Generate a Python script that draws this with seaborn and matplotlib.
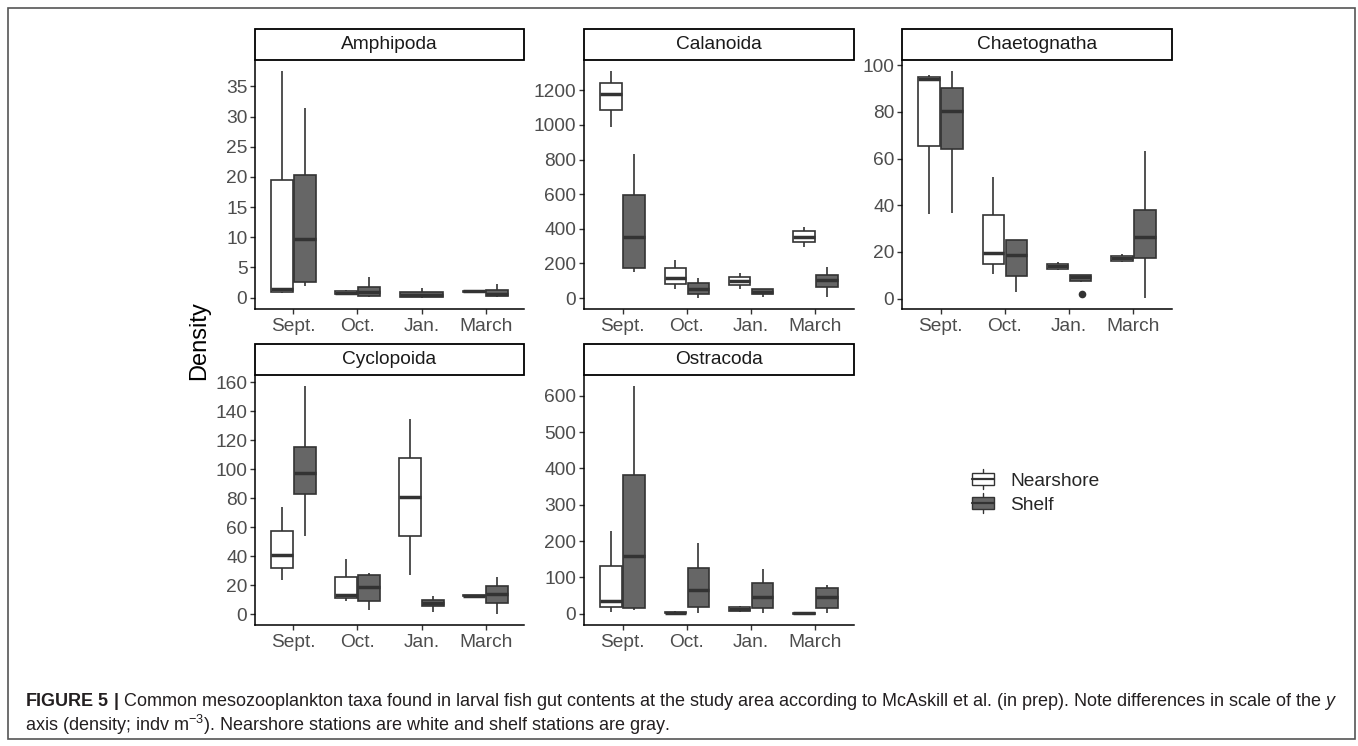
import numpy as np
import pandas as pd
import matplotlib
matplotlib.use("Agg")
import matplotlib.pyplot as plt
import seaborn as sns
from matplotlib.patches import Rectangle, Patch
from matplotlib.lines import Line2D
from matplotlib.legend_handler import HandlerBase
from matplotlib.ticker import MultipleLocator
from matplotlib import font_manager

# ---------------- data ----------------
months = ["Sept.", "Oct.", "Jan.", "March"]
stations = ["Nearshore", "Shelf"]
taxa = ["Amphipoda", "Calanoida", "Chaetognatha", "Cyclopoida", "Ostracoda"]

# five-number summaries per month: (min, Q1, median, Q3, max); None = no data
amphipoda_nearshore = [[0.7, 1.0, 1.4, 19.5, 37.5], [0.5, 0.6, 0.85, 1.05, 1.2],
                       None, [0.9, 0.95, 1.05, 1.1, 1.2]]
amphipoda_shelf = [[1.9, 2.6, 9.8, 20.4, 31.5], [0.05, 0.3, 0.95, 1.8, 3.4],
                   [0.0, 0.05, 0.45, 0.95, 1.6], [0.05, 0.2, 0.65, 1.2, 2.3]]

calanoida_nearshore = [[990, 1085, 1180, 1245, 1310], [50, 83, 118, 172, 222],
                       [55, 75, 100, 122, 145], [295, 325, 354, 386, 412]]
calanoida_shelf = [[150, 175, 355, 595, 835], [2, 22, 55, 87, 114],
                   [6, 22, 37, 50, 55], [6, 65, 105, 132, 180]]

chaetognatha_nearshore = [[36.4, 65.2, 94.2, 95.0, 95.7], [10.5, 14.7, 19.4, 35.8, 51.9],
                          [12.2, 12.8, 13.8, 14.7, 15.5], [15.5, 16.2, 17.4, 18.4, 19.1]]
chaetognatha_shelf = [[36.6, 64.2, 80.6, 90.2, 97.4], [3.0, 9.5, 18.7, 25.1, 25.3],
                      [7.3, 7.5, 9.1, 10.1, 10.2], [0.4, 17.4, 26.6, 38.1, 63.4]]

cyclopoida_nearshore = [[23.7, 31.8, 41.1, 57.6, 74.3], [9.3, 11.4, 13.2, 25.5, 38.1],
                        [27.2, 53.9, 80.8, 107.8, 134.5], [12.6, 12.8, 13.0, 13.2, 13.4]]
cyclopoida_shelf = [[53.9, 83.1, 97.5, 115.4, 157.2], [2.8, 9.1, 19.0, 26.9, 28.8],
                    [1.9, 6.0, 7.9, 10.0, 12.5], [0.5, 7.9, 13.9, 19.5, 25.5]]

ostracoda_nearshore = [[4, 18, 36, 130, 228], [0, 1, 3, 5, 6],
                       [3.7, 6.5, 12, 17.6, 22], [0, 0.2, 0.5, 1.0, 1.5]]
ostracoda_shelf = [[11, 16, 158, 381, 626], [2, 19, 65, 126, 194],
                   [2, 15, 46, 85, 122], [2, 16, 46, 71, 78]]

# outliers: (taxon, month, station, value)
outliers = [("Chaetognatha", "Jan.", "Shelf", 2.0)]

y_tick_steps = [5, 200, 20, 20, 100]

caption_line1 = (r"$\mathbf{FIGURE\ 5\ |}$ Common mesozooplankton taxa found in larval fish gut "
                 r"contents at the study area according to McAskill et al. (in prep). "
                 r"Note differences in scale of the $\mathit{y}$")
caption_line2 = (r"axis (density; indv m$^{-3}$). Nearshore stations are white and "
                 r"shelf stations are gray.")

series = {
    "Amphipoda": (amphipoda_nearshore, amphipoda_shelf),
    "Calanoida": (calanoida_nearshore, calanoida_shelf),
    "Chaetognatha": (chaetognatha_nearshore, chaetognatha_shelf),
    "Cyclopoida": (cyclopoida_nearshore, cyclopoida_shelf),
    "Ostracoda": (ostracoda_nearshore, ostracoda_shelf),
}

# ---------------- style ----------------
sns.set_theme(style="white")
plt.rcParams["font.family"] = ["Liberation Sans", "DejaVu Sans"]

names = {f.name for f in font_manager.fontManager.ttflist}
cap_family = "Liberation Sans Narrow" if "Liberation Sans Narrow" in names else "Liberation Sans"
plt.rcParams["mathtext.fontset"] = "custom"
plt.rcParams["mathtext.rm"] = cap_family
plt.rcParams["mathtext.it"] = cap_family + ":italic"
plt.rcParams["mathtext.bf"] = cap_family + ":bold"

EDGE = "#333333"
palette = {"Nearshore": "#FFFFFF", "Shelf": "#666666"}
TICK_FS = 13.8

W, H = 1358, 746
fig = plt.figure(figsize=(W / 100, H / 100), dpi=100)
fig.patch.set_facecolor("white")

# panel rectangles in pixels (left, top, right, bottom)
panel_px = {
    "Amphipoda": (255, 60, 524, 309),
    "Calanoida": (584, 60, 854, 309),
    "Chaetognatha": (902, 60, 1172, 309),
    "Cyclopoida": (255, 375, 524, 625),
    "Ostracoda": (584, 375, 854, 625),
}
STRIP_PX = 31

box_kw = dict(whis=(0, 100), showcaps=False, linecolor=EDGE, linewidth=1.2,
              medianprops=dict(linewidth=2.5, color=EDGE), saturation=1,
              legend=False)

for taxon, step in zip(taxa, y_tick_steps):
    l, t, r, b = panel_px[taxon]
    ax = fig.add_axes([l / W, 1 - b / H, (r - l) / W, (b - t) / H])
    near, shelf = series[taxon]
    rows_pair, rows_single = [], []
    for i, m in enumerate(months):
        groups = [(st, v) for st, v in zip(stations, (near[i], shelf[i])) if v is not None]
        target = rows_pair if len(groups) == 2 else rows_single
        for st, vals in groups:
            for v in vals:
                target.append({"month": m, "station": st, "density": v})
    df_pair = pd.DataFrame(rows_pair)
    sns.boxplot(data=df_pair, x="month", y="density", hue="station", order=months,
                hue_order=stations, palette=palette, width=0.72, gap=0.08, ax=ax, **box_kw)
    allvals = list(df_pair["density"])
    if rows_single:
        df_single = pd.DataFrame(rows_single)
        sns.boxplot(data=df_single, x="month", y="density", hue="station", order=months,
                    hue_order=stations, palette=palette, dodge=False, width=0.66, ax=ax, **box_kw)
        allvals += list(df_single["density"])
    outs = [o for o in outliers if o[0] == taxon]
    if outs:
        df_out = pd.DataFrame([{"month": o[1], "station": o[2], "density": o[3]} for o in outs])
        sns.stripplot(data=df_out, x="month", y="density", hue="station", order=months,
                      hue_order=stations, palette={s: EDGE for s in stations}, dodge=True,
                      jitter=False, size=5.5, legend=False, ax=ax, zorder=5)
        allvals += list(df_out["density"])

    lo, hi = min(allvals), max(allvals)
    pad = 0.05 * (hi - lo)
    ax.set_ylim(lo - pad, hi + pad)
    ax.set_xlim(-0.6, 3.6)
    ax.yaxis.set_major_locator(MultipleLocator(step))
    ax.set_xlabel("")
    ax.set_ylabel("")
    ax.set_facecolor("white")
    for s in ["top", "right"]:
        ax.spines[s].set_visible(False)
    for s in ["left", "bottom"]:
        ax.spines[s].set_color("black")
        ax.spines[s].set_linewidth(1.1)
    ax.tick_params(axis="both", length=3.5, width=1.0, color=EDGE, labelcolor="#4D4D4D",
                   labelsize=TICK_FS, left=True, bottom=True)
    ax.tick_params(axis="y", pad=2)
    ax.tick_params(axis="x", pad=3)
    ax.grid(False)

    hfrac = STRIP_PX / (b - t)
    ax.add_patch(Rectangle((0, 1), 1, hfrac, transform=ax.transAxes, clip_on=False,
                           facecolor="white", edgecolor="black", linewidth=1.3, zorder=10))
    ax.text(0.5, 1 + hfrac / 2, taxon, transform=ax.transAxes, ha="center", va="center",
            fontsize=TICK_FS, color="#1A1A1A", zorder=11)

fig.text(199 / W, 1 - 341 / H, "Density", rotation=90, ha="center", va="center",
         fontsize=17, color="black")


class BoxHandler(HandlerBase):
    def create_artists(self, legend, orig_handle, xdescent, ydescent, width, height,
                       fontsize, trans):
        x0, y0 = -xdescent, -ydescent
        fc = orig_handle.get_facecolor()
        bh = height * 0.6
        by = y0 + (height - bh) / 2
        cx = x0 + width / 2
        w1 = Line2D([cx, cx], [y0, by], color=EDGE, lw=1.0, transform=trans)
        w2 = Line2D([cx, cx], [by + bh, y0 + height], color=EDGE, lw=1.0, transform=trans)
        rect = Rectangle((x0, by), width, bh, facecolor=fc, edgecolor=EDGE, lw=1.0,
                         transform=trans)
        med = Line2D([x0, x0 + width], [y0 + height / 2] * 2, color=EDGE, lw=1.6,
                     transform=trans)
        return [w1, w2, rect, med]


handles = [Patch(facecolor=palette[s], edgecolor=EDGE, label=s) for s in stations]
fig.legend(handles=handles, labels=stations, loc="center left",
           bbox_to_anchor=(972 / W, 1 - 491.5 / H), frameon=False,
           handler_map={Patch: BoxHandler()}, handlelength=1.15, handleheight=1.2,
           handletextpad=0.85, labelspacing=0.2, fontsize=TICK_FS, borderpad=0,
           borderaxespad=0)

# figure frame
fig.add_artist(Rectangle((8 / W, 1 - 739 / H), (1355 - 8) / W, (739 - 8) / H,
                         transform=fig.transFigure, fill=False, edgecolor="#555555",
                         linewidth=1.2))

# caption
cap_fs = 11
t1 = fig.text(25 / W, 1 - 706 / H, caption_line1, fontsize=cap_fs, family=cap_family,
              color="#231F20", va="baseline", ha="left")
t2 = fig.text(25 / W, 1 - 731 / H, caption_line2, fontsize=cap_fs, family=cap_family,
              color="#231F20", va="baseline", ha="left")
fig.canvas.draw()
bb = t1.get_window_extent(renderer=fig.canvas.get_renderer())
scale = 1315 / bb.width
t1.set_fontsize(cap_fs * scale)
t2.set_fontsize(cap_fs * scale)

fig.savefig("out.png", dpi=100, facecolor="white")
